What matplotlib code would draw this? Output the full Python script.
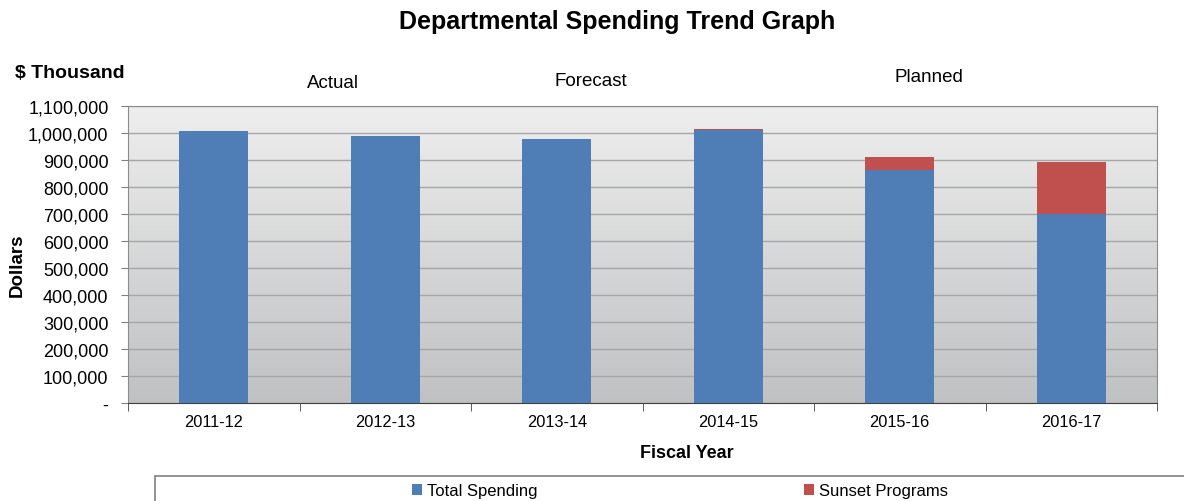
import numpy as np
import matplotlib.pyplot as plt
from matplotlib.patches import Rectangle
from matplotlib.ticker import FuncFormatter

plt.rcParams['font.family'] = ['Liberation Sans', 'DejaVu Sans']

anios = ['2011-12', '2012-13', '2013-14', '2014-15', '2015-16', '2016-17']
total = [1007000, 989000, 978000, 1012000, 862000, 699000]
sunset = [0, 0, 0, 3000, 48000, 192000]
grupos = ['Actual', 'Forecast', 'Planned']
azul = '#4f7db5'
rojo = '#c0504d'

fig = plt.figure(figsize=(11.84, 5.02), dpi=100)
ax = fig.add_axes([128/1184, 1-404/502, (1157-128)/1184, (404-107)/502])

# fondo degradado estilo Excel
grad = np.linspace(0, 1, 256).reshape(-1, 1)
ax.imshow(grad, extent=[0, 1, 0, 1], transform=ax.transAxes, aspect='auto',
          cmap=plt.matplotlib.colors.LinearSegmentedColormap.from_list('g', ['#c0c1c3', '#eeeeee']),
          origin='lower', zorder=0)

x = np.arange(len(anios))
ax.bar(x, total, width=0.4, color=azul, label='Total Spending', zorder=3)
ax.bar(x, sunset, width=0.4, bottom=total, color=rojo, label='Sunset Programs', zorder=3)

ax.set_xlim(-0.5, 5.5)
ax.set_ylim(0, 1100000)
ax.set_yticks(np.arange(0, 1100001, 100000))
ax.yaxis.set_major_formatter(FuncFormatter(lambda v, p: '-' if v == 0 else f'{int(v):,}'))
ax.grid(axis='y', color='#a6a6a6', linewidth=1, zorder=1)
ax.set_axisbelow(True)
ax.set_xticks(x)
ax.set_xticklabels(anios)
ax.set_xticks(np.arange(-0.5, 6, 1), minor=True)
ax.tick_params(axis='x', which='major', length=0, labelsize=11.8, pad=8)
ax.tick_params(axis='x', which='minor', length=6, color='#404040')
ax.tick_params(axis='y', length=5, labelsize=13, color='#808080', pad=9)
for s in ['top', 'right', 'left']:
    ax.spines[s].set_color('#8c8c8c')
ax.spines['bottom'].set_color('#404040')

ax.set_xlabel('Fiscal Year', fontsize=13, fontweight='bold')
ax.xaxis.set_label_coords((687-128)/(1157-128), -(445-404)/(404-107))
ax.set_ylabel('Dollars', fontsize=13.5, fontweight='bold')
ax.yaxis.set_label_coords(-(128-26)/(1157-128), (404-265)/(404-107))

fig.text(617/1184, 1-22/502, 'Departmental Spending Trend Graph', ha='center', va='center',
         fontsize=18, fontweight='bold')
fig.text(15/1184, 1-74/502, '$ Thousand', ha='left', va='center', fontsize=14, fontweight='bold')
for nombre, px, py in zip(grupos, [333, 591, 929], [84, 81, 78]):
    fig.text(px/1184, 1-py/502, nombre, ha='center', va='center', fontsize=13.5)

# leyenda con marco cortado
fig.patches.append(Rectangle((155/1184, -0.1), 1.2, 0.1 + (502-477)/502, transform=fig.transFigure,
                             facecolor='white', edgecolor='#7f7f7f', linewidth=1.2))
fig.legend(loc='center', bbox_to_anchor=(680/1184, 1-492/502), ncol=2, frameon=False,
           fontsize=12, handlelength=0.6, handleheight=0.6, handletextpad=0.3,
           columnspacing=16)

plt.savefig('out.png', dpi=100)
